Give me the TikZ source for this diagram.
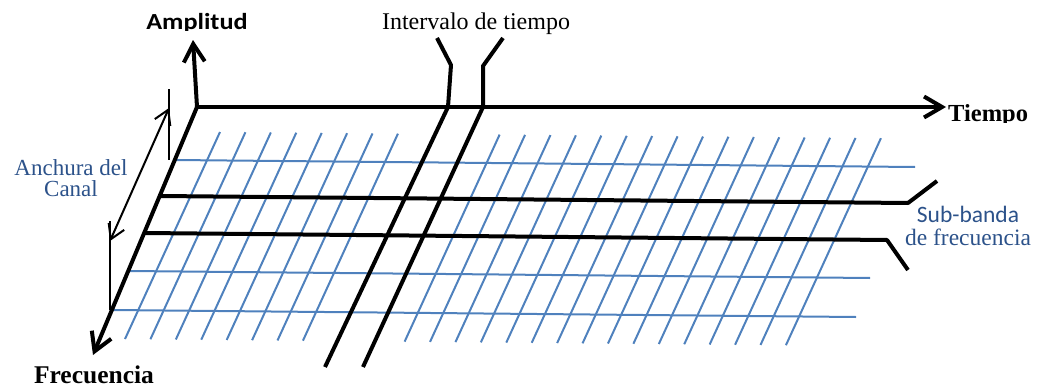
\documentclass[tikz,border=0pt]{standalone}
\usepackage{fontspec}
\setmainfont{Liberation Serif}
\newfontfamily\calib{Carlito}
\usetikzlibrary{arrows.meta}
\definecolor{gridblue}{RGB}{79,129,189}
\definecolor{txtblue}{RGB}{44,82,138}
\tikzset{
  bluegrid/.style={gridblue, line width=2pt},
  heavy/.style={black, line width=4pt, line join=round},
  axisarrow/.style={heavy, -{Straight Barb[length=18pt,width=21pt]}},
  dimline/.style={black, line width=2pt},
  dimarrow/.style={dimline, {Straight Barb[length=14pt,width=17pt]}-{Straight Barb[length=14pt,width=17pt]}},
}
\begin{document}
\begin{tikzpicture}[x=1pt,y=1pt]
\useasboundingbox (0,0) rectangle (1037,-388);
% key points
\coordinate (O) at (197,-107);
\coordinate (Atip) at (193,-40);
\coordinate (Ttip) at (946,-107);
\coordinate (Ftip) at (93,-355);
% blue diagonals (frequency direction)
\foreach \k in {0,...,7,11,12,...,26}{
  \pgfmathsetmacro\xt{220+25.42*\k}
  \pgfmathsetmacro\yt{132+0.0094*25.42*\k}
  \draw[bluegrid] (\xt,-\yt) -- ++(-95,-207);
}
% blue horizontals (time direction)
\draw[bluegrid] (174,-160) -- (915,-167);
\draw[bluegrid] (128,-271) -- (870,-278);
\draw[bluegrid] (112,-310) -- (856,-317);
% sub-band (black) lines
\coordinate (SA1) at (160,-196);
\coordinate (SA2) at (908,-203);
\coordinate (SA3) at (937,-181);
\coordinate (SB1) at (144,-233);
\coordinate (SB2) at (887,-240);
\coordinate (SB3) at (908,-270);
\draw[heavy] (SA1) -- (SA2) -- (SA3);
\draw[heavy] (SB1) -- (SB2) -- (SB3);
% time interval (black) lines
\coordinate (I1a) at (437,-38);
\coordinate (I1b) at (451,-65);
\coordinate (I1c) at (448,-107);
\coordinate (I1d) at (325,-367);
\coordinate (I2a) at (503,-38);
\coordinate (I2b) at (483,-66);
\coordinate (I2c) at (483,-107);
\coordinate (I2d) at (363,-367);
\draw[heavy] (I1a) -- (I1b) -- (I1c) -- (I1d);
\draw[heavy] (I2a) -- (I2b) -- (I2c) -- (I2d);
% axes
\draw[axisarrow] (O) -- (Atip);
\draw[axisarrow] (O) -- (Ttip);
\draw[axisarrow] (O) -- (Ftip);
% channel width dimension
\coordinate (D1) at (169,-108);
\coordinate (D2) at (110,-241);
\coordinate (E1a) at (169,-89);
\coordinate (E1b) at (169,-160);
\coordinate (E2a) at (110,-221);
\coordinate (E2b) at (110,-310);
\draw[dimline] (E1a) -- (E1b);
\draw[dimline] (E2a) -- (E2b);
\draw[dimarrow] (D1) -- (D2);
% labels
\begin{scope}
\clip (100,0) rectangle (300,-30.5);
\node (amp) [anchor=base, inner sep=0pt, font=\calib\bfseries\fontsize{23}{23}\selectfont, xscale=1.14, transform shape] at (197,-29) {Amplitud};
\end{scope}
\begin{scope}
\clip (940,-90) rectangle (1037,-122);
\node (tiem) [anchor=base west, inner sep=0pt, font=\bfseries\fontsize{24.5}{24}\selectfont] at (948,-121) {Tiempo};
\end{scope}
\node (int) [anchor=base, inner sep=0pt, font=\fontsize{24}{24}\selectfont] at (476,-30) {Intervalo de tiempo};
\node (freq) [anchor=base, inner sep=0pt, font=\bfseries\fontsize{25.5}{25}\selectfont] at (94,-383) {Frecuencia};
\node (anch) [anchor=base, inner sep=0pt, align=center, text=txtblue, font=\fontsize{23}{21}\selectfont] at (71,-196) {Anchura del\\Canal};
\node (sub) [anchor=base, inner sep=0pt, align=center, text=txtblue, font=\fontsize{23.5}{22.5}\selectfont] at (968,-245) {{\calib Sub-banda}\\de frecuencia};
\end{tikzpicture}
\end{document}
